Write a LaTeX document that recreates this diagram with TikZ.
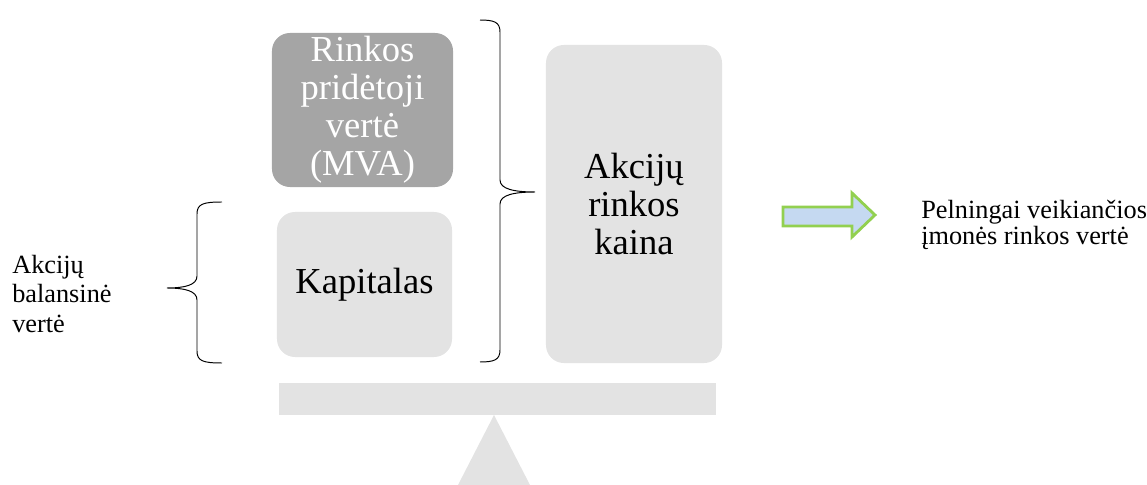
\documentclass[tikz,border=0pt]{standalone}
\usepackage{fontspec}
\setmainfont{Liberation Serif}
\usetikzlibrary{positioning}
\definecolor{boxgray}{HTML}{E3E3E3}
\definecolor{mvagray}{HTML}{A5A5A5}
\definecolor{arrowblue}{HTML}{C5D9F1}
\definecolor{arrowgreen}{HTML}{92D050}

\begin{document}
\begin{tikzpicture}[
    x=0.025cm, y=-0.025cm,
box/.style   = {fill=boxgray, rounded corners=0.45cm, align=center, inner sep=0pt,
                font=\fontsize{26}{27}\selectfont},
label/.style = {align=left, inner sep=0pt, anchor=west},
brace/.style = {line width=0.7pt},
every edge quotes/.style = {align=center}
                        ]
\useasboundingbox (0,0) rectangle (1147,485);
% boxes
\node (mva) [box, fill=mvagray, text=white, minimum width=4.525cm, minimum height=3.85cm]
    at (362.5,110) {Rinkos\\pridėtoji\\vertė\\(MVA)};
\node (kapitalas) [box, minimum width=4.375cm, minimum height=3.625cm]
    at (364.5,284.5) {Kapitalas};
\node (kaina) [box, minimum width=4.4cm, minimum height=7.95cm]
    at (634,204) {Akcijų\\rinkos\\kaina};
% texts
\node (balans) [label, font=\fontsize{18.7}{21}\selectfont]
    at (12,294) {Akcijų\\balansinė\\vertė};
\node (pelnas) [label, font=\fontsize{18.7}{18.7}\selectfont]
    at (921,225) {Pelningai veikiančios\\įmonės rinkos vertė};
% braces
\draw[brace] (222,202) .. controls (203,202) and (197,204) .. (197,214)
    -- (197,276) .. controls (197,285) and (185,288) .. (167,288)
    .. controls (185,288) and (197,291) .. (197,300)
    -- (197,351) .. controls (197,361) and (203,363) .. (222,363);
\draw[brace] (480,20) .. controls (494,20) and (500,22) .. (500,32)
    -- (500,180) .. controls (500,189) and (514,192) .. (535,192)
    .. controls (514,192) and (500,195) .. (500,204)
    -- (500,350) .. controls (500,360) and (494,362) .. (480,362);
% arrow
\draw[line width=2pt, draw=arrowgreen, fill=arrowblue]
    (783,207) -- (852,207) -- (852,193) -- (875,215)
    -- (852,237) -- (852,226) -- (783,226) -- cycle;
% seesaw
\fill[boxgray] (279,383) rectangle (716,415);
\fill[boxgray] (494,415) -- (530,485) -- (458,485) -- cycle;
    \end{tikzpicture}
\end{document}
